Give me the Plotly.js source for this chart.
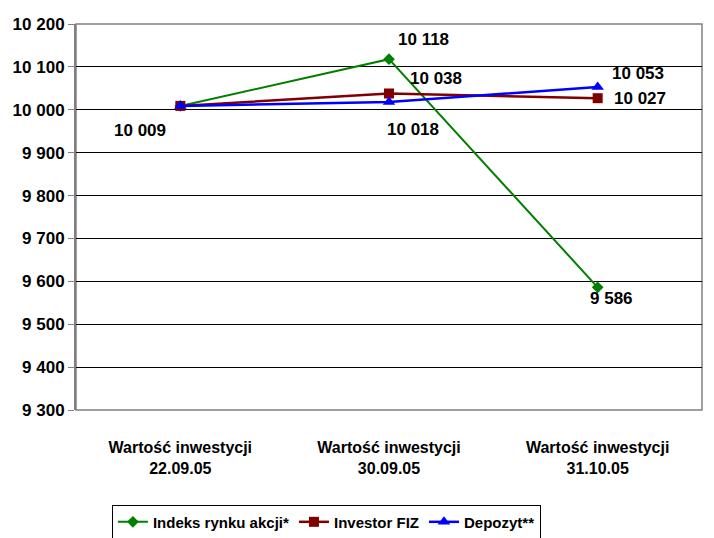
<!DOCTYPE html>
<html>
<head>
<meta charset="utf-8">
<script src="https://cdn.plot.ly/plotly-3.0.1.min.js"></script>
<style>html,body{margin:0;padding:0;background:#fff;}#chart{width:714px;height:538px;}</style>
</head>
<body>
<div id="chart"></div>
<script>
const categories = ["Wartość inwestycji<br>22.09.05", "Wartość inwestycji<br>30.09.05", "Wartość inwestycji<br>31.10.05"];
const seriesNames = ["Indeks rynku akcji*", "Investor FIZ", "Depozyt**"];
const indeks = [10009, 10118, 9586];
const investor = [10009, 10038, 10027];
const depozyt = [10009, 10018, 10053];
const yTicks = [9300, 9400, 9500, 9600, 9700, 9800, 9900, 10000, 10100, 10200];

const FONT = "Liberation Sans, Arial, sans-serif";
const bold = (size) => ({family: FONT, size: size, color: "#000", weight: "bold"});

const traces = [
  {x: categories, y: indeks, name: seriesNames[0], mode: "lines+markers",
   line: {color: "#008000", width: 2}, marker: {symbol: "diamond", size: 9, color: "#008000"}},
  {x: categories, y: investor, name: seriesNames[1], mode: "lines+markers",
   line: {color: "#800000", width: 2.5}, marker: {symbol: "square", size: 10, color: "#800000"}},
  {x: categories, y: depozyt, name: seriesNames[2], mode: "lines+markers",
   line: {color: "#0000FF", width: 2.5}, marker: {symbol: "triangle-up", size: 11, color: "#0000FF"}}
];

// label placements: [series values, index, xshift, yshift]
const labelSpecs = [
  [indeks, 0, -40, -25],
  [indeks, 1, 34, 20],
  [indeks, 2, 14, -11],
  [investor, 1, 47, 15],
  [investor, 2, 42, 0],
  [depozyt, 1, 24, -27],
  [depozyt, 2, 40, 14]
];
const fmt = v => String(v).replace(/\B(?=(\d{3})+(?!\d))/g, " ");
const annotations = labelSpecs.map(([arr, i, xs, ys]) => ({
  x: categories[i], y: arr[i], text: fmt(arr[i]), showarrow: false,
  xshift: xs, yshift: ys, font: bold(17)
}));

const layout = {
  width: 714, height: 538,
  margin: {l: 76, r: 12, t: 24, b: 128, autoexpand: false},
  paper_bgcolor: "#fff", plot_bgcolor: "#fff",
  font: bold(15),
  showlegend: true,
  legend: {orientation: "h", x: 0.40, xanchor: "center", y: -0.245, yanchor: "top",
           bordercolor: "#000", borderwidth: 1, font: bold(15),
           itemwidth: 30, tracegroupgap: 0},
  xaxis: {type: "category", range: [-0.5, 2.5], showgrid: false, zeroline: false, showline: false,
          ticks: "outside", ticklen: 23, tickcolor: "rgba(0,0,0,0)",
          tickfont: bold(16), fixedrange: true, automargin: false},
  yaxis: {range: [9300, 10200], tickvals: yTicks, ticktext: yTicks.map(fmt),
          showgrid: true, gridcolor: "#000", gridwidth: 1, zeroline: false,
          showline: true, linecolor: "#808080", linewidth: 2, ticks: "outside", ticklen: 6,
          tickcolor: "#808080", tickfont: bold(17), mirror: false, automargin: false},
  annotations: annotations,
  shapes: [{type: "rect", xref: "paper", yref: "paper", x0: 0, x1: 1, y0: 0, y1: 1,
            line: {color: "#808080", width: 1.5}, fillcolor: "rgba(0,0,0,0)", layer: "below"}]
};

Plotly.newPlot("chart", traces, layout, {displayModeBar: false, staticPlot: true});
</script>
</body>
</html>
